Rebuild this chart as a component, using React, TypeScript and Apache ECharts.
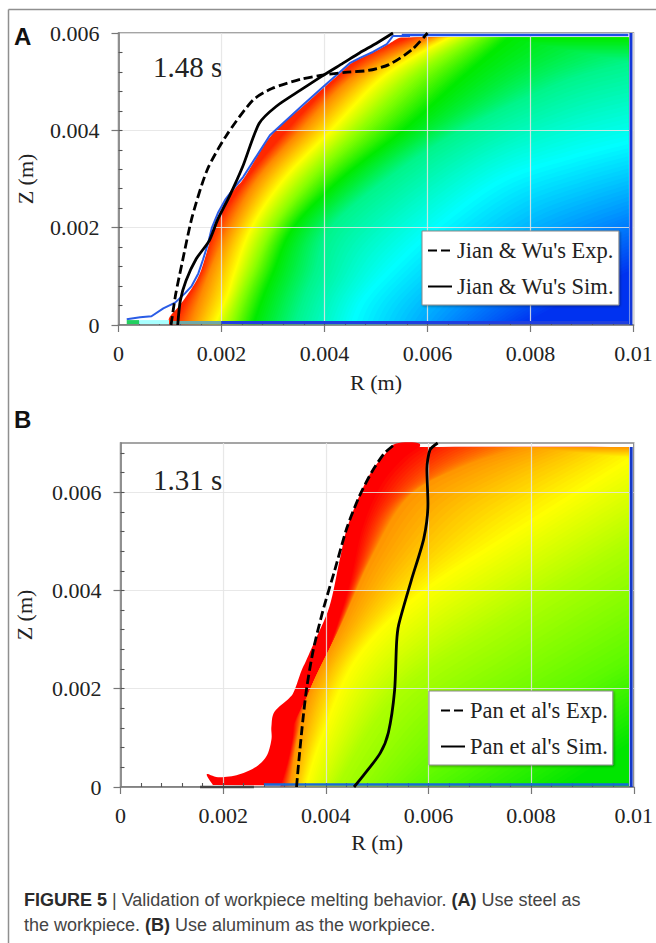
import React, { useEffect, useRef } from "react";
import * as echarts from "echarts";

type P = number[];

// ---- ticks ----
const X_MAJOR = [0, 0.002, 0.004, 0.006, 0.008, 0.01];
const X_MINOR = [0.0004, 0.0008, 0.0012, 0.0016, 0.002, 0.0024, 0.0028, 0.0032, 0.0036, 0.004, 0.0044, 0.0048, 0.0052, 0.0056, 0.006, 0.0064, 0.0068, 0.0072, 0.0076, 0.008, 0.0084, 0.0088, 0.0092, 0.0096];
const YA_MAJOR = [0, 0.002, 0.004, 0.006];
const YB_MAJOR = [0, 0.002, 0.004, 0.006];
const YA_MINOR = [0.0004, 0.0008, 0.0012, 0.0016, 0.002, 0.0024, 0.0028, 0.0032, 0.0036, 0.004, 0.0044, 0.0048, 0.0052, 0.0056];
const YB_MINOR = [0.0004, 0.0008, 0.0012, 0.0016, 0.002, 0.0024, 0.0028, 0.0032, 0.0036, 0.004, 0.0044, 0.0048, 0.0052, 0.0056, 0.006, 0.0064, 0.0068];

// ---- panel A curves ----
const A_EXP: P[] = [[0.00102, 0], [0.00111, 0.00063], [0.00123, 0.00125], [0.00143, 0.00222], [0.00172, 0.00318], [0.00208, 0.00387], [0.00261, 0.00462], [0.00298, 0.00486], [0.00354, 0.00505], [0.00399, 0.00514], [0.0044, 0.00519], [0.00485, 0.00523], [0.00525, 0.00535], [0.0057, 0.00566], [0.006, 0.006]];
const A_SIM: P[] = [[0.00115, 0], [0.0012, 0.0005], [0.00131, 0.00091], [0.00151, 0.00136], [0.00176, 0.00173], [0.00192, 0.00215], [0.00216, 0.00266], [0.00241, 0.00325], [0.00273, 0.00414], [0.00306, 0.00449], [0.00354, 0.00483], [0.00399, 0.00514], [0.00436, 0.00538], [0.00468, 0.00559], [0.00501, 0.00579], [0.00533, 0.006]];
const A_RIM: P[] = [[0.00016, 0.00012], [0.00042, 0.00016], [0.00064, 0.00018], [0.00087, 0.00034], [0.0011, 0.00046], [0.00129, 0.00065], [0.00142, 0.0008], [0.00155, 0.00106], [0.00164, 0.00134], [0.00174, 0.00168], [0.00181, 0.00199], [0.00193, 0.0023], [0.00207, 0.00257], [0.00226, 0.00284], [0.00242, 0.00304], [0.00294, 0.0039], [0.00358, 0.00452], [0.00397, 0.00489], [0.00424, 0.00514], [0.00449, 0.00538], [0.00469, 0.00549], [0.00494, 0.00561], [0.00521, 0.00577], [0.00533, 0.00594], [0.00566, 0.00594]];
const A_FRONT: P[] = [[0.00098, 0], [0.00099, 0.00016], [0.0012, 0.00042], [0.00145, 0.0008], [0.00158, 0.00106], [0.00167, 0.00134], [0.00177, 0.00168], [0.00184, 0.00199], [0.00196, 0.0023], [0.0021, 0.00257], [0.00229, 0.00284], [0.00245, 0.00304], [0.00297, 0.0039], [0.00361, 0.00452], [0.004, 0.00489], [0.00427, 0.00514], [0.00452, 0.00538], [0.00472, 0.00549], [0.00497, 0.00561], [0.00524, 0.00577], [0.00546, 0.0059], [0.0057, 0.0059]];
const A_RED: P[] = [[0.00105, 0], [0.0013, 0.0005], [0.0016, 0.0011], [0.00186, 0.00199], [0.0025, 0.00304], [0.00325, 0.004], [0.00405, 0.00489], [0.00475, 0.0055], [0.0056, 0.0059]];
const A_ORANGE: P[] = [[0.0014, 0], [0.0016, 0.0006], [0.00185, 0.0013], [0.00216, 0.002], [0.0027, 0.003], [0.00354, 0.004], [0.00444, 0.005], [0.0052, 0.0055], [0.00606, 0.0059]];
const A_YELLOW: P[] = [[0.00185, 0], [0.0021, 0.0006], [0.00225, 0.0011], [0.00257, 0.002], [0.0032, 0.003], [0.00411, 0.004], [0.00501, 0.005], [0.0057, 0.0055], [0.0064, 0.0059]];
const A_LIME: P[] = [[0.0022, 0], [0.0024, 0.0006], [0.0026, 0.0011], [0.00298, 0.002], [0.0037, 0.003], [0.00468, 0.004], [0.00566, 0.005], [0.0063, 0.0055], [0.0069, 0.0059]];
const A_GREEN: P[] = [[0.0026, 0], [0.0028, 0.0006], [0.003, 0.0011], [0.00338, 0.002], [0.0043, 0.003], [0.0055, 0.004], [0.00655, 0.005], [0.0071, 0.0055], [0.00755, 0.0059]];
const A_SPRING: P[] = [[0.0034, 0], [0.0036, 0.0006], [0.0038, 0.0011], [0.00411, 0.002], [0.0052, 0.003], [0.00663, 0.004], [0.00859, 0.005], [0.0099, 0.0054]];
const A_CYAN: P[] = [[0.0045, 0], [0.0047, 0.0005], [0.0052, 0.0011], [0.0061, 0.002], [0.0074, 0.003], [0.0088, 0.0035], [0.0099, 0.0038]];
const A_AZURE: P[] = [[0.0063, 0], [0.0068, 0.0005], [0.0076, 0.0011], [0.0087, 0.0018], [0.0099, 0.0023]];
const A_BLUE: P[] = [[0.0078, 0], [0.0087, 0.0005], [0.0099, 0.0011]];
const A_BOTTOM_LEFT: P[] = [[0.001, 0.00005], [0.002, 0.00005]];
const A_BOTTOM: P[] = [[0.002, 0.00005], [0.0099, 0.00005]];
const A_TOP: P[] = [[0.0055, 0.00596], [0.0099, 0.00596]];
const A_RIGHT: P[] = [[0.00995, 0], [0.00995, 0.006]];
const A_SLIVER_GREEN: P[] = [[0.00016, 0.00006], [0.0004, 0.00006]];
const A_SLIVER_CYAN: P[] = [[0.0004, 0.00006], [0.00098, 0.00006]];

// ---- panel B curves ----
const B_EXP: P[] = [[0.00343, 0], [0.00347, 0.00048], [0.00355, 0.00133], [0.00363, 0.00203], [0.00376, 0.00281], [0.00396, 0.00365], [0.00416, 0.00436], [0.00441, 0.00527], [0.00465, 0.00591], [0.00489, 0.0064], [0.00514, 0.00679], [0.00534, 0.00697]];
const B_SIM: P[] = [[0.00455, 0], [0.00473, 0.00023], [0.00506, 0.00069], [0.00522, 0.00111], [0.00534, 0.00196], [0.00538, 0.00295], [0.00542, 0.0033], [0.00567, 0.00422], [0.00591, 0.00506], [0.00599, 0.00577], [0.00597, 0.00647], [0.00603, 0.00686], [0.00618, 0.007]];
const B_FRONT: P[] = [[0.0018, 0.00004], [0.00168, 0.00026], [0.0019, 0.0002], [0.00226, 0.00024], [0.00261, 0.00039], [0.00284, 0.00062], [0.00294, 0.00096], [0.00294, 0.00123], [0.003, 0.00153], [0.00329, 0.00181], [0.00339, 0.00197], [0.00352, 0.00235], [0.00362, 0.00258], [0.00378, 0.00296], [0.00407, 0.00367], [0.00427, 0.00462], [0.00442, 0.00529], [0.00469, 0.00601], [0.00491, 0.00645], [0.00517, 0.00679], [0.00537, 0.00699], [0.00582, 0.00699], [0.00576, 0.00679], [0.0058, 0.0067], [0.00598, 0.00685], [0.0062, 0.00692], [0.0099, 0.00692]];
const B_RED: P[] = [[0.0031, 0], [0.00325, 0.0005], [0.00335, 0.00102], [0.0034, 0.00136], [0.00388, 0.00232], [0.0044, 0.00394], [0.00466, 0.00523], [0.00498, 0.00611], [0.00537, 0.00665], [0.0057, 0.00692]];
const B_ORANGE: P[] = [[0.0033, 0], [0.00345, 0.001], [0.0037, 0.002], [0.0043, 0.0033], [0.0049, 0.0047], [0.0056, 0.0059], [0.0066, 0.0065], [0.0078, 0.00692]];
const B_YELLOW: P[] = [[0.0036, 0], [0.0039, 0.001], [0.00457, 0.0026], [0.00579, 0.00393], [0.00741, 0.00506], [0.0099, 0.0067]];
const B_LIME: P[] = [[0.0042, 0], [0.0054, 0.0019], [0.0074, 0.0033], [0.0099, 0.0049]];
const B_GREEN1: P[] = [[0.0058, 0], [0.0074, 0.0011], [0.0099, 0.0026]];
const B_GREEN2: P[] = [[0.0086, 0], [0.0099, 0.0009]];
const B_BOTTOM: P[] = [[0.0028, 0.00005], [0.0099, 0.00005]];
const B_AXIS_DARK: P[] = [[0.00155, 0], [0.0026, 0]];
const B_RIGHT: P[] = [[0.00995, 0], [0.00995, 0.00692]];

// ---- colours of the contour lines ----
const A_COLORS = ["#ff2800", "#ff8c00", "#ffff00", "#8cff00", "#00eb00", "#00f58c", "#00ffff", "#008cff", "#0032f0"];
const B_COLORS = ["#ff0000", "#ff9600", "#ffff00", "#aaff00", "#5afa00", "#00e600"];

const A_CONTOURS = [A_RED, A_ORANGE, A_YELLOW, A_LIME, A_GREEN, A_SPRING, A_CYAN, A_AZURE, A_BLUE];
const B_CONTOURS = [B_RED, B_ORANGE, B_YELLOW, B_LIME, B_GREEN1, B_GREEN2];

const SERIF = "'Liberation Serif'";
const SANS = "'Liberation Sans'";
const INK = "#222";
const R_EDGE = 0.0099;
const STEPS = 18;

function catmull(pts: P[]): P[] {
  const out: P[] = [];
  for (let i = 0; i < pts.length - 1; i++) {
    const p0 = pts[Math.max(i - 1, 0)], p1 = pts[i], p2 = pts[i + 1], p3 = pts[Math.min(i + 2, pts.length - 1)];
    for (let s = 0; s < 8; s++) {
      const t = s / 8, t2 = t * t, t3 = t2 * t;
      out.push([0, 1].map((k) => 0.5 * (2 * p1[k] + (p2[k] - p0[k]) * t + (2 * p0[k] - 5 * p1[k] + 4 * p2[k] - p3[k]) * t2 + (3 * p1[k] - p0[k] - 3 * p2[k] + p3[k]) * t3)));
    }
  }
  out.push(pts[pts.length - 1]);
  return out;
}

function resample(pts: P[], n: number): P[] {
  const d = [0];
  for (let i = 1; i < pts.length; i++) d.push(d[i - 1] + Math.hypot(pts[i][0] - pts[i - 1][0], pts[i][1] - pts[i - 1][1]));
  const total = d[d.length - 1];
  const out: P[] = [];
  let j = 0;
  for (let i = 0; i < n; i++) {
    const s = (total * i) / (n - 1);
    while (j < pts.length - 2 && d[j + 1] < s) j++;
    const f = (s - d[j]) / Math.max(d[j + 1] - d[j], 1e-12);
    out.push([pts[j][0] + (pts[j + 1][0] - pts[j][0]) * f, pts[j][1] + (pts[j + 1][1] - pts[j][1]) * f]);
  }
  return out;
}

function hex(c: string): number[] {
  return [1, 3, 5].map((i) => parseInt(c.slice(i, i + 2), 16));
}
function mix(a: string, b: string, t: number): string {
  const x = hex(a), y = hex(b);
  return `rgb(${x.map((v, i) => Math.round(v + (y[i] - v) * t)).join(",")})`;
}

function closed(line: P[]): P[] {
  const e = line[line.length - 1];
  const out = line.slice();
  if (e[0] < R_EDGE - 1e-7) out.push([R_EDGE, e[1]]);
  out.push([R_EDGE, 0]);
  return out;
}

function fieldSeries(front: P[], contours: P[][], colors: string[], gridIdx: number) {
  const lines = contours.map((c) => resample(catmull(c), 60));
  const smoothFront = catmull(front).map((p) => [p[0], Math.max(p[1], 0)]);
  const items = [[-1]].concat(contours.slice(0, -1).map((_, i) => [i]));
  return {
    type: "custom",
    coordinateSystem: "cartesian2d",
    xAxisIndex: gridIdx * 2,
    yAxisIndex: gridIdx * 2,
    z: 1,
    silent: true,
    clip: false,
    data: items,
    renderItem: (_: any, api: any) => {
      const idx = api.value(0);
      const poly = (pts: P[], fill: string) => ({
        type: "polygon",
        silent: true,
        shape: { points: pts.map((p) => api.coord(p)) },
        style: { fill, stroke: null },
      });
      if (idx < 0) return poly(closed(smoothFront), colors[0]);
      const children = [];
      for (let s = 1; s <= STEPS; s++) {
        const t = s / STEPS;
        const blended = lines[idx].map((p, k) => [p[0] + (lines[idx + 1][k][0] - p[0]) * t, p[1] + (lines[idx + 1][k][1] - p[1]) * t]);
        children.push(poly(closed(blended), mix(colors[idx], colors[idx + 1], t)));
      }
      return { type: "group", children };
    },
  };
}

function curve(name: string, data: P[], gridIdx: number, dashed: boolean) {
  return {
    name,
    type: "line",
    xAxisIndex: gridIdx * 2,
    yAxisIndex: gridIdx * 2,
    data,
    symbol: "none",
    smooth: 0.25,
    z: 4,
    silent: true,
    clip: true,
    lineStyle: { color: "#000", width: 2.8, type: dashed ? [9, 4] : "solid" },
    itemStyle: { color: "#000" },
  };
}

function strip(name: string, data: P[], gridIdx: number, color: string, width: number) {
  return {
    name,
    type: "line",
    xAxisIndex: gridIdx * 2,
    yAxisIndex: gridIdx * 2,
    data,
    symbol: "none",
    z: 3,
    silent: true,
    clip: false,
    lineStyle: { color, width },
  };
}

const labelFont = { fontFamily: SERIF, fontSize: 22, color: INK };

function axes(kind: "x" | "y", gridIdx: number, major: number[], minor: number[], max: number, nameText: string, nameGap: number, margin: number) {
  const main = {
    type: "value",
    gridIndex: gridIdx,
    min: 0,
    max,
    interval: 0.002,
    position: kind === "x" ? "bottom" : "left",
    z: 2,
    name: nameText,
    nameLocation: "middle",
    nameGap,
    nameTextStyle: labelFont,
    axisLine: { show: true, onZero: false, lineStyle: { color: "#777", width: 1.5 } },
    axisTick: { show: true, length: 7, customValues: major, lineStyle: { color: "#777", width: 1.2 } },
    axisLabel: { show: true, margin, customValues: major, ...labelFont, formatter: (v: number) => String(v) },
    splitLine: { show: true, lineStyle: { color: "rgba(228,228,228,0.85)", width: 1.2 } },
    minorTick: { show: false },
  };
  const inner = {
    type: "value",
    gridIndex: gridIdx,
    min: 0,
    max,
    interval: 0.002,
    position: kind === "x" ? "bottom" : "left",
    z: 2,
    axisLine: { show: false, onZero: false },
    axisTick: { show: true, inside: true, length: 4, customValues: minor, lineStyle: { color: "#555", width: 1.1 } },
    axisLabel: { show: false },
    splitLine: { show: false },
  };
  return [main, inner];
}

function legendAt(left: number, top: number, names: string[], padLeft: number) {
  return {
    show: true,
    orient: "vertical",
    left,
    top,
    data: names,
    itemWidth: 24,
    itemHeight: 14,
    itemGap: 13,
    padding: [8, 5, 7, padLeft],
    backgroundColor: "#fff",
    borderColor: "#8a8a8a",
    borderWidth: 1,
    shadowColor: "rgba(0,0,0,0.35)",
    shadowBlur: 2,
    shadowOffsetX: 1,
    shadowOffsetY: 1,
    itemStyle: { opacity: 0, color: "transparent", borderWidth: 0 },
    textStyle: { fontFamily: SERIF, fontSize: 22.5, color: INK },
    selectedMode: false,
  };
}

const CAPTION_RICH = {
  b: { fontFamily: SANS, fontSize: 18, fontWeight: "bold", fill: "#2b2b2b" },
  n: { fontFamily: SANS, fontSize: 18, fill: "#444" },
};
const CAPTION_1 = "{b|FIGURE 5} {n|| Validation of workpiece melting behavior.} {b|(A)} {n|Use steel as}";
const CAPTION_2 = "{n|the workpiece.} {b|(B)} {n|Use aluminum as the workpiece.}";

export default function App() {
  const ref = useRef<HTMLDivElement>(null);
  useEffect(() => {
    const chart = echarts.init(ref.current!, undefined, { renderer: "svg" });
    const xA = axes("x", 0, X_MAJOR, X_MINOR, 0.01, "R (m)", 46, 17);
    const yA = axes("y", 0, YA_MAJOR, YA_MINOR, 0.006, "Z (m)", 82, 19);
    const xB = axes("x", 1, X_MAJOR, X_MINOR, 0.01, "R (m)", 44, 17);
    const yB = axes("y", 1, YB_MAJOR, YB_MINOR, 0.007, "Z (m)", 85, 19);
    const boxStyle = { show: true, backgroundColor: "#fff", borderColor: "#888", borderWidth: 1.5 };
    const text = (x: number, y: number, t: string, font: any) => ({
      type: "text",
      x,
      y,
      silent: true,
      style: { text: t, textVerticalAlign: "middle", ...font },
    });
    chart.setOption({
      animation: false,
      backgroundColor: "#fff",
      grid: [
        { left: 118.5, top: 33, width: 515, height: 292, ...boxStyle },
        { left: 120.5, top: 443, width: 514.5, height: 344, ...boxStyle },
      ],
      xAxis: [...xA, ...xB],
      yAxis: [...yA, ...yB],
      legend: [
        legendAt(422, 231, ["Jian & Wu's Exp.", "Jian & Wu's Sim."], 5),
        legendAt(429, 691, ["Pan et al's Exp.", "Pan et al's Sim."], 11),
      ],
      series: [
        fieldSeries(A_FRONT, A_CONTOURS, A_COLORS, 0),
        strip("rim A", A_RIM, 0, "#2a5ce6", 2),
        strip("bottom A left", A_BOTTOM_LEFT, 0, "#6fa9a8", 3),
        strip("bottom A", A_BOTTOM, 0, "#1f3fe0", 3),
        strip("top A", A_TOP, 0, "#1f50e8", 2.5),
        strip("right A", A_RIGHT, 0, "#1438d8", 3),
        strip("sliver green", A_SLIVER_GREEN, 0, "#22d060", 4),
        strip("sliver cyan", A_SLIVER_CYAN, 0, "#a8ffff", 4),
        curve("Jian & Wu's Exp.", A_EXP, 0, true),
        curve("Jian & Wu's Sim.", A_SIM, 0, false),
        fieldSeries(B_FRONT, B_CONTOURS, B_COLORS, 1),
        strip("bottom B", B_BOTTOM, 1, "#1769d8", 2.5),
        strip("axis B", B_AXIS_DARK, 1, "#444", 2.5),
        strip("right B", B_RIGHT, 1, "#1438c8", 3),
        curve("Pan et al's Exp.", B_EXP, 1, true),
        curve("Pan et al's Sim.", B_SIM, 1, false),
      ],
      graphic: [
        { type: "line", silent: true, shape: { x1: 8.5, y1: 9.5, x2: 656, y2: 9.5 }, style: { stroke: "#8f8f8f", lineWidth: 1.5 } },
        { type: "line", silent: true, shape: { x1: 8.5, y1: 9.5, x2: 8.5, y2: 943 }, style: { stroke: "#8f8f8f", lineWidth: 1.5 } },
        text(14, 36, "A", { fontFamily: SANS, fontWeight: "bold", fontSize: 24, fill: "#111" }),
        text(14, 419, "B", { fontFamily: SANS, fontWeight: "bold", fontSize: 24, fill: "#111" }),
        text(153, 67, "1.48 s", { fontFamily: SERIF, fontSize: 29, fill: INK }),
        text(153, 480, "1.31 s", { fontFamily: SERIF, fontSize: 29, fill: INK }),
        { type: "text", x: 24, y: 900, silent: true, style: { text: CAPTION_1, rich: CAPTION_RICH, textVerticalAlign: "middle", fontFamily: SANS, fontSize: 18 } },
        { type: "text", x: 24, y: 925, silent: true, style: { text: CAPTION_2, rich: CAPTION_RICH, textVerticalAlign: "middle", fontFamily: SANS, fontSize: 18 } },
      ],
    });
    return () => chart.dispose();
  }, []);
  return <div ref={ref} style={{ position: "absolute", left: 0, top: 0, width: 656, height: 943 }} />;
}
